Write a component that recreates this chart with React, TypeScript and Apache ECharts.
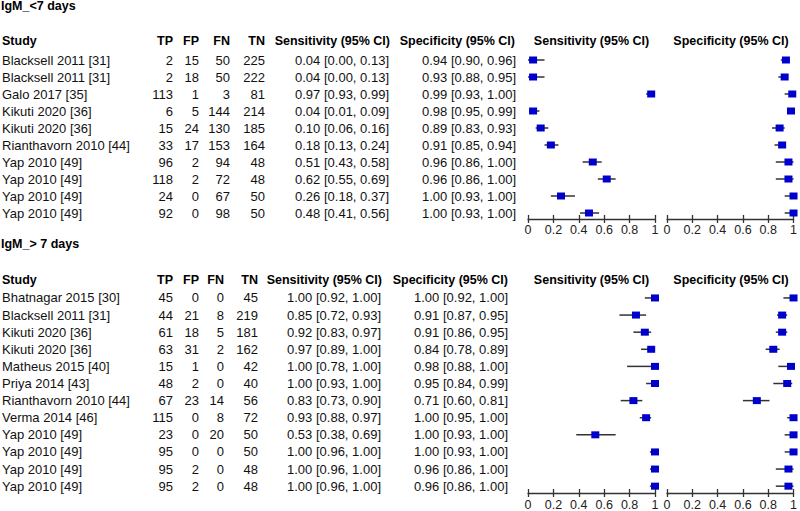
import React, { useEffect, useRef } from 'react';
import * as echarts from 'echarts';

// ---------- Section 1: IgM_<7 days ----------
const title1 = 'IgM_<7 days';
const studies1 = [
  'Blacksell 2011 [31]', 'Blacksell 2011 [31]', 'Galo 2017 [35]', 'Kikuti 2020 [36]', 'Kikuti 2020 [36]',
  'Rianthavorn 2010 [44]', 'Yap 2010 [49]', 'Yap 2010 [49]', 'Yap 2010 [49]', 'Yap 2010 [49]',
];
const tp1 = [2, 2, 113, 6, 15, 33, 96, 118, 24, 92];
const fp1 = [15, 18, 1, 5, 24, 17, 2, 2, 0, 0];
const fn1 = [50, 50, 3, 144, 130, 153, 94, 72, 67, 98];
const tn1 = [225, 222, 81, 214, 185, 164, 48, 48, 50, 50];
const sens1 = [0.04, 0.04, 0.97, 0.04, 0.10, 0.18, 0.51, 0.62, 0.26, 0.48];
const sensLo1 = [0.00, 0.00, 0.93, 0.01, 0.06, 0.13, 0.43, 0.55, 0.18, 0.41];
const sensHi1 = [0.13, 0.13, 0.99, 0.09, 0.16, 0.24, 0.58, 0.69, 0.37, 0.56];
const spec1 = [0.94, 0.93, 0.99, 0.98, 0.89, 0.91, 0.96, 0.96, 1.00, 1.00];
const specLo1 = [0.90, 0.88, 0.93, 0.95, 0.83, 0.85, 0.86, 0.86, 0.93, 0.93];
const specHi1 = [0.96, 0.95, 1.00, 0.99, 0.93, 0.94, 1.00, 1.00, 1.00, 1.00];

// ---------- Section 2: IgM_> 7 days ----------
const title2 = 'IgM_> 7 days';
const studies2 = [
  'Bhatnagar 2015 [30]', 'Blacksell 2011 [31]', 'Kikuti 2020 [36]', 'Kikuti 2020 [36]', 'Matheus 2015 [40]',
  'Priya 2014 [43]', 'Rianthavorn 2010 [44]', 'Verma 2014 [46]', 'Yap 2010 [49]', 'Yap 2010 [49]',
  'Yap 2010 [49]', 'Yap 2010 [49]',
];
const tp2 = [45, 44, 61, 63, 15, 48, 67, 115, 23, 95, 95, 95];
const fp2 = [0, 21, 18, 31, 1, 2, 23, 0, 0, 0, 2, 2];
const fn2 = [0, 8, 5, 2, 0, 0, 14, 8, 20, 0, 0, 0];
const tn2 = [45, 219, 181, 162, 42, 40, 56, 72, 50, 50, 48, 48];
const sens2 = [1.00, 0.85, 0.92, 0.97, 1.00, 1.00, 0.83, 0.93, 0.53, 1.00, 1.00, 1.00];
const sensLo2 = [0.92, 0.72, 0.83, 0.89, 0.78, 0.93, 0.73, 0.88, 0.38, 0.96, 0.96, 0.96];
const sensHi2 = [1.00, 0.93, 0.97, 1.00, 1.00, 1.00, 0.90, 0.97, 0.69, 1.00, 1.00, 1.00];
const spec2 = [1.00, 0.91, 0.91, 0.84, 0.98, 0.95, 0.71, 1.00, 1.00, 1.00, 0.96, 0.96];
const specLo2 = [0.92, 0.87, 0.86, 0.78, 0.88, 0.84, 0.60, 0.95, 0.93, 0.93, 0.86, 0.86];
const specHi2 = [1.00, 0.95, 0.95, 0.89, 1.00, 0.99, 0.81, 1.00, 1.00, 1.00, 1.00, 1.00];

// headers and axis ticks
const tableHeaders = ['Study', 'TP', 'FP', 'FN', 'TN', 'Sensitivity (95% CI)', 'Specificity (95% CI)'];
const plotHeaders = ['Sensitivity (95% CI)', 'Specificity (95% CI)'];
const tickValues = [0, 0.2, 0.4, 0.6, 0.8, 1];

const FONT = "Arial, 'Liberation Sans', Helvetica, sans-serif";

const sections = [
  {
    title: title1, studies: studies1, tp: tp1, fp: fp1, fn: fn1, tn: tn1,
    sens: sens1, sensLo: sensLo1, sensHi: sensHi1, spec: spec1, specLo: specLo1, specHi: specHi1,
  },
  {
    title: title2, studies: studies2, tp: tp2, fp: fp2, fn: fn2, tn: tn2,
    sens: sens2, sensLo: sensLo2, sensHi: sensHi2, spec: spec2, specLo: specLo2, specHi: specHi2,
  },
];

// layout (pixels)
const layout = [
  { top: 51.5, rowH: 17, yMax: 9.35, titleY: 6, headerY: 40.7, cols: [173, 199, 230, 265, 389, 516], hcols: [173, 199, 230, 265, 390, 515] },
  { top: 289.4, rowH: 17.27, yMax: 11.4, titleY: 244, headerY: 280, cols: [173, 199, 224, 258, 381, 508], hcols: [173, 199, 224, 258, 382, 508] },
];
const panels = [{ left: 528, width: 127 }, { left: 667, width: 128 }];

const fmtCI = (e: number, l: number, h: number) => `${e.toFixed(2)} [${l.toFixed(2)}, ${h.toFixed(2)}]`;

function buildOption() {
  const grid: any[] = [];
  const xAxis: any[] = [];
  const yAxis: any[] = [];
  const series: any[] = [];
  const graphic: any[] = [];

  const axisColor = '#333';

  sections.forEach((sec, s) => {
    const L = layout[s];
    const height = (L.yMax + 0.5) * L.rowH;

    // titles & headers
    graphic.push({
      type: 'text', x: 1, y: L.titleY,
      style: { text: sec.title, fill: '#000', font: `bold 12.5px ${FONT}`, align: 'left', verticalAlign: 'middle' },
    });
    graphic.push({
      type: 'text', x: 2, y: L.headerY,
      style: { text: tableHeaders[0], fill: '#000', font: `bold 12.5px ${FONT}`, align: 'left', verticalAlign: 'middle' },
    });
    for (let c = 1; c < tableHeaders.length; c++) {
      graphic.push({
        type: 'text', x: L.hcols[c - 1], y: L.headerY,
        style: { text: tableHeaders[c], fill: '#000', font: `bold 12.5px ${FONT}`, align: 'right', verticalAlign: 'middle' },
      });
    }
    panels.forEach((p, pi) => {
      graphic.push({
        type: 'text', x: p.left + p.width / 2, y: L.headerY,
        style: { text: plotHeaders[pi], fill: '#000', font: `bold 12.5px ${FONT}`, align: 'center', verticalAlign: 'middle' },
      });
    });

    panels.forEach((p, pi) => {
      const g = s * 2 + pi;
      grid.push({ left: p.left, width: p.width, top: L.top, height, containLabel: false });
      const base = {
        gridIndex: g, type: 'value', position: 'bottom',
        min: tickValues[0], max: tickValues[tickValues.length - 1], interval: tickValues[1] - tickValues[0],
        splitLine: { show: false },
      };
      xAxis.push({
        ...base,
        axisLine: { show: true, onZero: false, lineStyle: { color: axisColor, width: 1.3 } },
        axisTick: { show: true, inside: false, length: 4, lineStyle: { color: axisColor, width: 1.3 } },
        axisLabel: { show: true, margin: 5, fontSize: 12.5, color: '#222', fontFamily: FONT },
      });
      xAxis.push({
        ...base,
        axisLine: { show: false, onZero: false },
        axisTick: { show: true, inside: true, length: 4, lineStyle: { color: axisColor, width: 1.3 } },
        axisLabel: { show: false },
      });
      yAxis.push({ gridIndex: g, type: 'value', inverse: true, min: -0.5, max: L.yMax, show: false });

      const est = pi === 0 ? sec.sens : sec.spec;
      const lo = pi === 0 ? sec.sensLo : sec.specLo;
      const hi = pi === 0 ? sec.sensHi : sec.specHi;
      series.push({
        type: 'custom',
        xAxisIndex: g * 2,
        yAxisIndex: g,
        clip: false,
        encode: { x: [1, 2, 3], y: 0 },
        data: est.map((e, i) => [i, e, lo[i], hi[i]]),
        renderItem: (params: any, api: any) => {
          const row = api.value(0);
          const pE = api.coord([api.value(1), row]);
          const pL = api.coord([api.value(2), row]);
          const pH = api.coord([api.value(3), row]);
          return {
            type: 'group',
            children: [
              {
                type: 'line',
                shape: { x1: pL[0], y1: pL[1], x2: pH[0], y2: pH[1] },
                style: { stroke: '#333', lineWidth: 1.5 },
              },
              {
                type: 'rect',
                shape: { x: pE[0] - 4, y: pE[1] - 3.5, width: 8, height: 7 },
                style: { fill: '#0000CC' },
              },
            ],
          };
        },
      });
    });

    // table rows
    const g0 = s * 2;
    series.push({
      type: 'custom',
      xAxisIndex: g0 * 2,
      yAxisIndex: g0,
      clip: false,
      encode: { x: 0, y: 1 },
      data: sec.studies.map((_, i) => [0, i]),
      renderItem: (params: any, api: any) => {
        const i = params.dataIndex;
        const y = api.coord([0, api.value(1)])[1];
        const font = `13px ${FONT}`;
        const fill = '#111';
        const texts = [
          String(sec.tp[i]), String(sec.fp[i]), String(sec.fn[i]), String(sec.tn[i]),
          fmtCI(sec.sens[i], sec.sensLo[i], sec.sensHi[i]),
          fmtCI(sec.spec[i], sec.specLo[i], sec.specHi[i]),
        ];
        const children: any[] = [
          { type: 'text', x: 2, y, style: { text: sec.studies[i], font, fill, align: 'left', verticalAlign: 'middle' } },
        ];
        texts.forEach((t, c) => {
          children.push({ type: 'text', x: L.cols[c], y, style: { text: t, font, fill, align: 'right', verticalAlign: 'middle' } });
        });
        return { type: 'group', children };
      },
    });
  });

  return {
    animation: false,
    backgroundColor: '#ffffff',
    grid,
    xAxis,
    yAxis,
    series,
    graphic,
  };
}

export default function App() {
  const ref = useRef<HTMLDivElement>(null);
  useEffect(() => {
    if (!ref.current) return;
    const chart = echarts.init(ref.current, undefined, { renderer: 'svg' });
    chart.setOption(buildOption() as any);
    return () => chart.dispose();
  }, []);
  return (
    <div
      ref={ref}
      style={{ position: 'fixed', left: 0, top: 0, width: 800, height: 511, background: '#fff' }}
    />
  );
}
